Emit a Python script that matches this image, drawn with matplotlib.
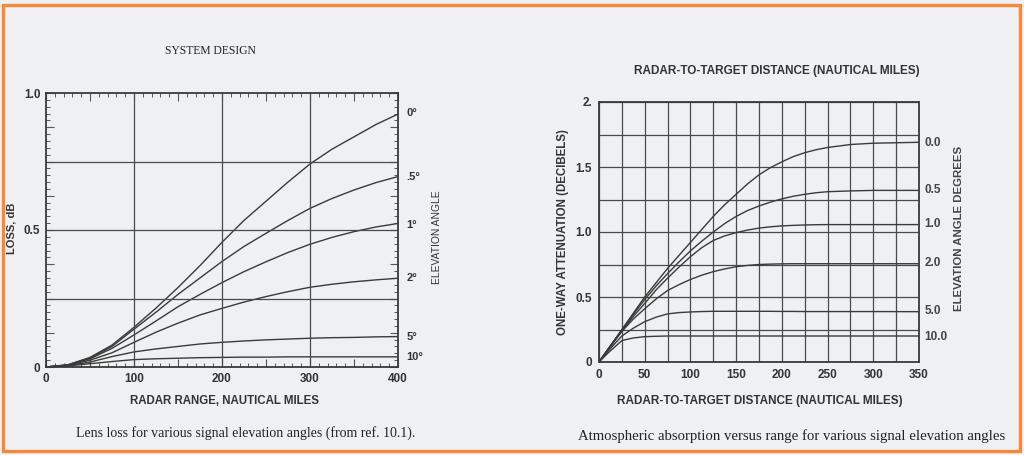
import matplotlib
matplotlib.use('Agg')
import matplotlib.pyplot as plt
from matplotlib.patches import Rectangle
from matplotlib.ticker import MultipleLocator, FuncFormatter

# left chart: lens loss (dB) vs radar range (nmi)
lens_range = [0, 25, 50, 75, 100, 125, 150, 175, 200, 225, 250, 275, 300, 325, 350, 375, 400]
lens_angles = ['0°', '.5°', '1°', '2°', '5°', '10°']
lens_loss_0 = [0, 0.008, 0.035, 0.08, 0.145, 0.215, 0.29, 0.37, 0.455, 0.535, 0.605, 0.675,
               0.741, 0.795, 0.84, 0.885, 0.923]
lens_loss_05 = [0, 0.008, 0.033, 0.075, 0.138, 0.20, 0.265, 0.325, 0.385, 0.44, 0.488, 0.535,
                0.579, 0.615, 0.646, 0.673, 0.695]
lens_loss_1 = [0, 0.007, 0.03, 0.068, 0.117, 0.168, 0.22, 0.265, 0.308, 0.348, 0.384, 0.418,
               0.448, 0.473, 0.494, 0.511, 0.524]
lens_loss_2 = [0, 0.006, 0.025, 0.052, 0.09, 0.127, 0.16, 0.19, 0.214, 0.237, 0.257, 0.275,
               0.291, 0.302, 0.311, 0.318, 0.324]
lens_loss_5 = [0, 0.005, 0.018, 0.038, 0.055, 0.066, 0.075, 0.084, 0.09, 0.095, 0.099, 0.102,
               0.105, 0.107, 0.108, 0.11, 0.111]
lens_loss_10 = [0, 0.004, 0.012, 0.02, 0.027, 0.03, 0.032, 0.034, 0.035, 0.036, 0.036, 0.037,
                0.037, 0.037, 0.037, 0.037, 0.037]

# right chart: one-way attenuation (dB) vs distance (nmi)
atm_range = [0, 10, 25, 37.5, 50, 62.5, 75, 87.5, 100, 112.5, 125, 137.5, 150, 162.5, 175,
             187.5, 200, 212.5, 225, 237.5, 250, 275, 300, 350]
atm_angles = ['0.0', '0.5', '1.0', '2.0', '5.0', '10.0']
atm_0 = [0, 0.1, 0.25, 0.375, 0.50, 0.61, 0.72, 0.82, 0.92, 1.02, 1.12, 1.21, 1.29, 1.37, 1.44,
         1.495, 1.54, 1.58, 1.61, 1.633, 1.65, 1.673, 1.683, 1.69]
atm_05 = [0, 0.1, 0.245, 0.365, 0.48, 0.585, 0.68, 0.77, 0.855, 0.93, 1.0, 1.065, 1.12, 1.165,
          1.2, 1.23, 1.255, 1.275, 1.29, 1.302, 1.31, 1.316, 1.32, 1.32]
atm_1 = [0, 0.1, 0.24, 0.35, 0.45, 0.555, 0.645, 0.73, 0.81, 0.88, 0.935, 0.97, 0.995, 1.015,
         1.03, 1.04, 1.047, 1.051, 1.054, 1.056, 1.057, 1.057, 1.057, 1.057]
atm_2 = [0, 0.095, 0.235, 0.33, 0.41, 0.485, 0.55, 0.595, 0.635, 0.668, 0.695, 0.716, 0.733,
         0.743, 0.75, 0.753, 0.755, 0.756, 0.756, 0.756, 0.756, 0.756, 0.756, 0.756]
atm_5 = [0, 0.085, 0.2, 0.26, 0.31, 0.345, 0.37, 0.38, 0.385, 0.388, 0.39, 0.39, 0.39, 0.39,
         0.39, 0.39, 0.389, 0.389, 0.388, 0.388, 0.388, 0.388, 0.388, 0.387]
atm_10 = [0, 0.07, 0.165, 0.185, 0.195, 0.198, 0.2, 0.2, 0.2, 0.2, 0.2, 0.2, 0.2, 0.2, 0.2,
          0.2, 0.2, 0.2, 0.2, 0.2, 0.2, 0.2, 0.2, 0.2]

W, H = 1024, 455
BG = '#eef0f2'
INK = '#333333'
SANS = 'Liberation Sans'
SERIF = 'Liberation Serif'


def px(x, y):
    """pixel position -> figure fraction"""
    return x / W, 1 - y / H


def axes_rect(x0, y0, x1, y1):
    return [x0 / W, 1 - y1 / H, (x1 - x0) / W, (y1 - y0) / H]


fig = plt.figure(figsize=(W / 100, H / 100), dpi=100, facecolor=BG)
fig.patches.append(Rectangle((3 / W, 4 / H), 1017 / W, 446 / H, transform=fig.transFigure,
                             fill=False, edgecolor='#f5883a', linewidth=2.4))

# ---------------- left chart ----------------
ax1 = fig.add_axes(axes_rect(46, 93, 398, 367))
ax1.set_facecolor(BG)
for y in [lens_loss_0, lens_loss_05, lens_loss_1, lens_loss_2, lens_loss_5, lens_loss_10]:
    ax1.plot(lens_range, y, color='#3a3a3a', lw=1.0)
for v in [100, 200, 300]:
    ax1.axvline(v, color='#4a4a4a', lw=0.9)
for v in [0.25, 0.5, 0.75]:
    ax1.axhline(v, color='#4a4a4a', lw=0.9)
ax1.set_xlim(0, 400)
ax1.set_ylim(0, 1.0)
ax1.xaxis.set_major_locator(MultipleLocator(50))
ax1.xaxis.set_minor_locator(MultipleLocator(10))
ax1.yaxis.set_major_locator(MultipleLocator(0.125))
ax1.yaxis.set_minor_locator(MultipleLocator(0.025))
ax1.xaxis.set_major_formatter(FuncFormatter(lambda v, p: f'{v:.0f}' if v % 100 == 0 else ''))
ax1.yaxis.set_major_formatter(FuncFormatter(
    lambda v, p: {0: '0', 0.5: '0.5', 1.0: '1.0'}.get(round(v, 3), '')))
ax1.tick_params(which='both', direction='in', top=True, right=True, color='#555555')
ax1.tick_params(which='major', length=6, width=0.8, labelsize=8.5, labelcolor=INK, pad=4)
ax1.tick_params(which='minor', length=3, width=0.7)
for lab in ax1.get_xticklabels() + ax1.get_yticklabels():
    lab.set_fontfamily(SANS)
    lab.set_fontweight('bold')
for s in ax1.spines.values():
    s.set_color('#3a3a3a')
    s.set_linewidth(1.3)

lens_label_y = [0.927, 0.693, 0.52, 0.325, 0.11, 0.036]
for lab, yv in zip(lens_angles, lens_label_y):
    ax1.annotate(lab, xy=(1, yv), xycoords=('axes fraction', 'data'), xytext=(6, 0),
                 textcoords='offset points', va='center', ha='left', fontsize=8,
                 fontfamily=SANS, fontweight='bold', color=INK)

fig.text(*px(437, 237), 'ELEVATION ANGLE', rotation=90, ha='center', va='center',
         fontsize=7.4, fontfamily=SANS, color=INK)
fig.text(*px(12, 228), 'LOSS, dB', rotation=90, ha='center', va='center',
         fontsize=8, fontfamily=SANS, fontweight='bold', color=INK)
fig.text(*px(225, 401), 'RADAR RANGE, NAUTICAL MILES', ha='center', va='center',
         fontsize=8.3, fontfamily=SANS, fontweight='bold', color=INK)
fig.text(*px(210, 51), 'SYSTEM DESIGN', ha='center', va='center',
         fontsize=8.4, fontfamily=SERIF, color='#222222')
fig.text(*px(246, 433), 'Lens loss for various signal elevation angles (from ref. 10.1).',
         ha='center', va='center', fontsize=10, fontfamily=SERIF, color='#222222')

# ---------------- right chart ----------------
ax2 = fig.add_axes(axes_rect(599, 102, 919, 362))
ax2.set_facecolor(BG)
for y in [atm_0, atm_05, atm_1, atm_2, atm_5, atm_10]:
    ax2.plot(atm_range, y, color='#3a3a3a', lw=1.0, zorder=3)
ax2.set_xlim(0, 350)
ax2.set_ylim(0, 2.0)
ax2.xaxis.set_major_locator(MultipleLocator(50))
ax2.xaxis.set_minor_locator(MultipleLocator(25))
ax2.yaxis.set_major_locator(MultipleLocator(0.5))
ax2.yaxis.set_minor_locator(MultipleLocator(0.25))
ax2.grid(True, which='both', color='#4a4a4a', lw=0.9)
ax2.xaxis.set_major_formatter(FuncFormatter(lambda v, p: f'{v:.0f}'))
ax2.yaxis.set_major_formatter(FuncFormatter(
    lambda v, p: {0: '0', 0.5: '0.5', 1.0: '1.0', 1.5: '1.5', 2.0: '2.'}.get(round(v, 2), '')))
ax2.tick_params(which='both', length=0, labelsize=8.5, labelcolor=INK, pad=5)
for lab in ax2.get_xticklabels() + ax2.get_yticklabels():
    lab.set_fontfamily(SANS)
    lab.set_fontweight('bold')
for s in ax2.spines.values():
    s.set_color('#3a3a3a')
    s.set_linewidth(1.3)

atm_label_y = [1.687, 1.32, 1.06, 0.764, 0.395, 0.19]
for lab, yv in zip(atm_angles, atm_label_y):
    ax2.annotate(lab, xy=(1, yv), xycoords=('axes fraction', 'data'), xytext=(4, 0),
                 textcoords='offset points', va='center', ha='left', fontsize=8.5,
                 fontfamily=SANS, fontweight='bold', color='#444444')

fig.text(*px(959, 228), 'ELEVATION ANGLE DEGREES', rotation=90, ha='center', va='center',
         fontsize=8.2, fontfamily=SANS, fontweight='bold', color='#444444')
fig.text(*px(563, 232), 'ONE-WAY ATTENUATION (DECIBELS)', rotation=90, ha='center', va='center',
         fontsize=8.3, fontfamily=SANS, fontweight='bold', color=INK)
fig.text(*px(777, 71), 'RADAR-TO-TARGET DISTANCE (NAUTICAL MILES)', ha='center', va='center',
         fontsize=8.5, fontfamily=SANS, fontweight='bold', color=INK)
fig.text(*px(760, 401), 'RADAR-TO-TARGET DISTANCE (NAUTICAL MILES)', ha='center', va='center',
         fontsize=8.5, fontfamily=SANS, fontweight='bold', color=INK)
fig.text(*px(792, 436), 'Atmospheric absorption versus range for various signal elevation angles',
         ha='center', va='center', fontsize=10.6, fontfamily=SERIF, color='#222222')

fig.savefig('out.png', dpi=100, facecolor=BG)
